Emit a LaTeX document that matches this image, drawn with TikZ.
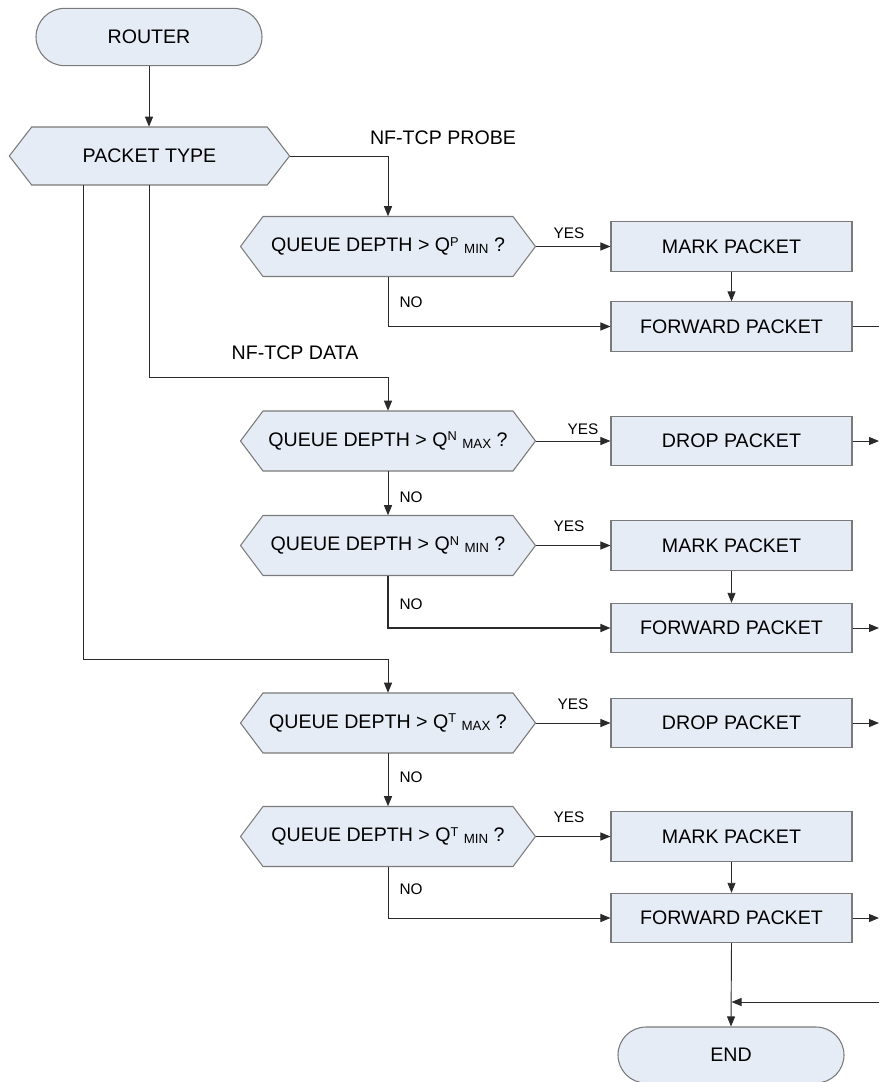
\documentclass[tikz,border=0pt]{standalone}
\usepackage{fontspec}
\setmainfont{Liberation Sans}
\usetikzlibrary{shapes.misc,arrows.meta}
\definecolor{boxfill}{HTML}{E6ECF6}
\definecolor{boxdraw}{HTML}{7A7A7A}
\definecolor{wirecol}{HTML}{2A2A2A}
\newcommand\qdepth[2]{QUEUE DEPTH > Q\raisebox{4.4pt}{\fontsize{9.6}{10}\selectfont #1}\ \raisebox{-1.4pt}{\fontsize{10}{10}\selectfont #2} ?}
\newcommand\hexat[4]{%
  \path[hexfill] (#2-147.5,#3) -- (#2-125,#3-30) -- (#2+125,#3-30) -- (#2+147.5,#3) -- (#2+125,#3+30) -- (#2-125,#3+30) -- cycle;
  \node[hexbox] (#1) at (#2,#3) {#4};}
\begin{document}
\begin{tikzpicture}[x=0.75pt,y=-0.75pt,
  every node/.style={font=\fontsize{14.7}{16}\selectfont, text=black},
  term/.style={rounded rectangle, draw=boxdraw, fill=boxfill, line width=0.8pt, minimum width=169.5pt, minimum height=43pt, inner sep=0pt},
  proc/.style={rectangle, draw=boxdraw, fill=boxfill, line width=0.8pt, minimum width=180.75pt, minimum height=37pt, inner sep=0pt},
  hexfill/.style={draw=boxdraw, fill=boxfill, line width=0.8pt, line join=miter},
  hexbox/.style={rectangle, minimum width=221.25pt, minimum height=45pt, inner sep=0pt},
  lbl/.style={font=\fontsize{11.5}{12}\selectfont, inner sep=0pt},
  big/.style={font=\fontsize{14.7}{16}\selectfont, inner sep=0pt},
  wire/.style={draw=wirecol, line width=0.7pt},
  arr/.style={wire, -{Triangle[length=7.5pt,width=6pt]}},
]
\useasboundingbox (0,0) rectangle (879,1082);
\clip (0,0) rectangle (879,1082);

% terminals
\node[term] (router) at (149,37) {ROUTER};
\node[term, minimum height=42pt] (end) at (731,1055) {END};

% packet type hexagon
\path[hexfill] (9.3,156) -- (31.7,127) -- (267.2,127) -- (289.6,156) -- (267.2,185) -- (31.7,185) -- cycle;
\node[rectangle, minimum width=210.2pt, minimum height=43.5pt, inner sep=0pt] (pt) at (149.45,156) {PACKET TYPE};

% decisions
\hexat{d1}{388}{246.5}{\qdepth{P}{MIN}}
\hexat{d2}{388}{441}{\qdepth{N}{MAX}}
\hexat{d3}{388}{545.5}{\qdepth{N}{MIN}}
\hexat{d4}{388}{723}{\qdepth{T}{MAX}}
\hexat{d5}{388}{836.5}{\qdepth{T}{MIN}}

% processes
\node[proc] (m1) at (731.5,246.5) {MARK PACKET};
\node[proc] (f1) at (731.5,326.5) {FORWARD PACKET};
\node[proc] (x2) at (731.5,441) {DROP PACKET};
\node[proc] (m2) at (731.5,545.5) {MARK PACKET};
\node[proc] (f2) at (731.5,628) {FORWARD PACKET};
\node[proc] (x4) at (731.5,723) {DROP PACKET};
\node[proc] (m3) at (731.5,836.5) {MARK PACKET};
\node[proc] (f3) at (731.5,918) {FORWARD PACKET};

% labels
\node[big] (lprobe) at (443,138) {NF-TCP PROBE};
\node[big] (ldata) at (295,353) {NF-TCP DATA};
\node[lbl] (y1) at (569,233) {YES};
\node[lbl] (n1) at (411,302) {NO};
\node[lbl] (y2) at (583,429) {YES};
\node[lbl] (n2) at (411,497) {NO};
\node[lbl] (y3) at (569,526) {YES};
\node[lbl] (n3) at (411,604) {NO};
\node[lbl] (y4) at (573,704) {YES};
\node[lbl] (n4) at (411,777) {NO};
\node[lbl] (y5) at (569,817) {YES};
\node[lbl] (n5) at (411,889) {NO};

% helper coordinates
\coordinate (ptl) at (83.7,185);
\coordinate (j2) at (388,377);
\coordinate (j4) at (388,659);
\coordinate (e1) at (879,326.5);
\coordinate (e2) at (879,441);
\coordinate (e3) at (879,628);
\coordinate (e4) at (879,723);
\coordinate (e5) at (879,918);
\coordinate (e6) at (879,1002);

% connectors
\draw[arr] (router.south) -- (router.south |- pt.north);
\draw[arr] (pt.east) -| (d1.north);
\draw[arr] (pt.south) |- (j2) -- (d2.north);
\draw[arr] (ptl) |- (j4) -- (d4.north);

\draw[arr] (d1.east) -- (m1.west);
\draw[arr] (m1) -- (f1);
\draw[arr] (d1.south) |- (f1.west);
\draw[wire] (f1.east) -- (e1);

\draw[arr] (d2.east) -- (x2.west);
\draw[arr] (x2.east) -- (e2);
\draw[arr] (d2.south) -- (d3.north);
\draw[arr] (d3.east) -- (m2.west);
\draw[arr] (m2) -- (f2);
\draw[arr, line width=1.1pt] (d3.south) |- (f2.west);
\draw[arr] (f2.east) -- (e3);

\draw[arr] (d4.east) -- (x4.west);
\draw[arr] (x4.east) -- (e4);
\draw[arr] (d4.south) -- (d5.north);
\draw[arr] (d5.east) -- (m3.west);
\draw[arr] (m3) -- (f3);
\draw[arr] (d5.south) |- (f3.west);
\draw[arr] (f3.east) -- (e5);
\draw[arr] (f3.south) -- (end.north);
\draw[arr] (e6) -- (f3.south |- e6);
\end{tikzpicture}
\end{document}
